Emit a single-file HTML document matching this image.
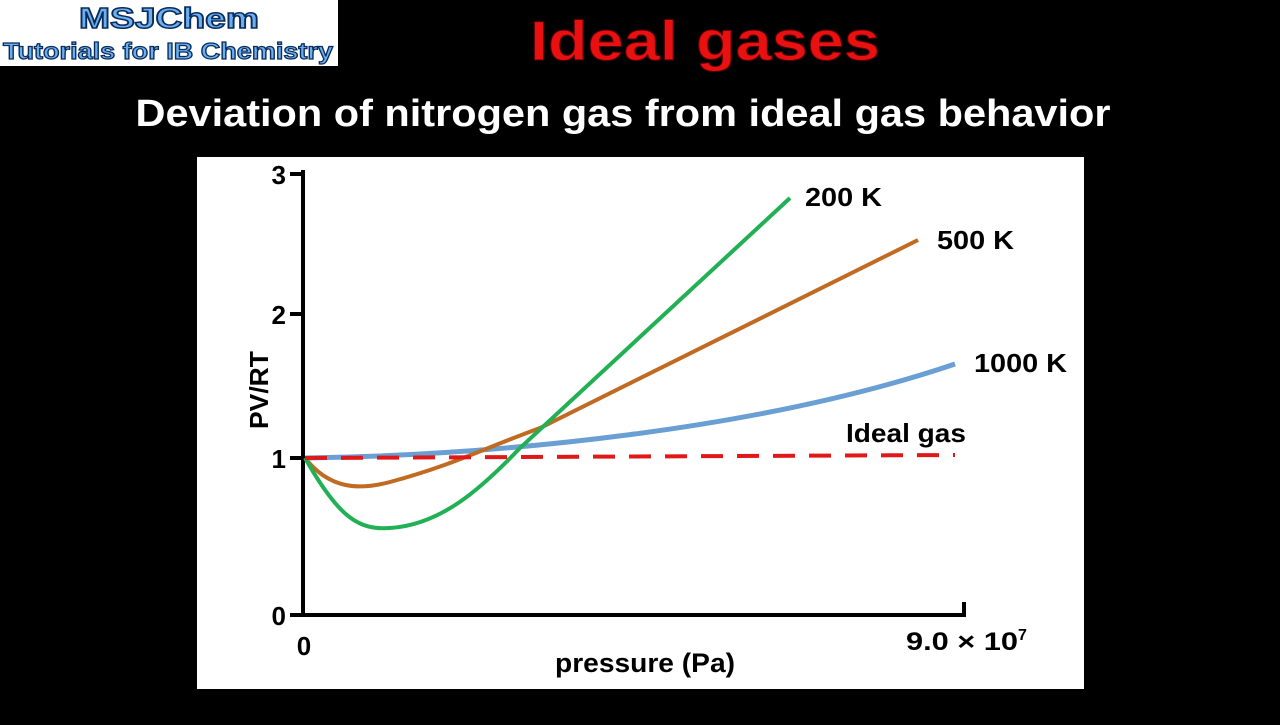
<!DOCTYPE html>
<html><head><style>
body{margin:0;width:1280px;height:720px;background:#000;overflow:hidden;font-family:"Liberation Sans",sans-serif}
</style></head><body>
<svg width="1280" height="720" viewBox="0 0 1280 720">
<rect x="0" y="0" width="338" height="66" fill="#fff"/>
<text x="169" y="28" text-anchor="middle" font-size="29" font-weight="bold" fill="#6aaff0" stroke="#0a2a5a" stroke-width="1.5" textLength="180" lengthAdjust="spacingAndGlyphs">MSJChem</text>
<text x="168" y="59" text-anchor="middle" font-size="23" font-weight="bold" fill="#6aaff0" stroke="#0a2a5a" stroke-width="1.2" textLength="330" lengthAdjust="spacingAndGlyphs">Tutorials for IB Chemistry</text>
<text x="705" y="60" text-anchor="middle" font-size="56" font-weight="bold" fill="#e81010" stroke="#5a0000" stroke-width="1" textLength="350" lengthAdjust="spacingAndGlyphs">Ideal gases</text>
<text x="623" y="126" text-anchor="middle" font-size="38" font-weight="bold" fill="#fff" textLength="975" lengthAdjust="spacingAndGlyphs">Deviation of nitrogen gas from ideal gas behavior</text>
<rect x="197" y="157" width="887" height="532" fill="#fff"/>
<g stroke="#000" stroke-width="4" fill="none">
<line x1="303" y1="170" x2="303" y2="617"/>
<line x1="301" y1="615" x2="966" y2="615"/>
<line x1="290" y1="174" x2="303" y2="174"/>
<line x1="290" y1="314" x2="303" y2="314"/>
<line x1="290" y1="458" x2="303" y2="458"/>
<line x1="290" y1="615" x2="303" y2="615"/>
<line x1="964" y1="615" x2="964" y2="602"/>
</g>
<g font-size="26" font-weight="bold" fill="#000" text-anchor="end">
<text x="286" y="184">3</text><text x="286" y="324">2</text><text x="286" y="468">1</text><text x="286" y="625">0</text>
</g>
<text x="304" y="655" font-size="26" font-weight="bold" text-anchor="middle">0</text>
<text x="906" y="650" font-size="25" font-weight="bold" textLength="112" lengthAdjust="spacingAndGlyphs">9.0 × 10</text><text x="1018" y="640" font-size="16" font-weight="bold">7</text>
<text x="645" y="672" font-size="27" font-weight="bold" text-anchor="middle" textLength="180" lengthAdjust="spacingAndGlyphs">pressure (Pa)</text>
<text transform="translate(268,390) rotate(-90)" font-size="26" font-weight="bold" text-anchor="middle" textLength="78" lengthAdjust="spacingAndGlyphs">PV/RT</text>
<path d="M305,458 C500,455 760,430 955,364" stroke="#6a9fd4" stroke-width="5" fill="none"/>
<path d="M305,458 C330,490 360,490 390,482 C450,466 480,450 540,428 L918,240" stroke="#c06a22" stroke-width="4" fill="none"/>
<path d="M305,458 C340,520 360,530 390,528 C440,525 480,490 520,448 L790,198" stroke="#22b055" stroke-width="4" fill="none"/>
<line x1="305" y1="458" x2="955" y2="455" stroke="#e01818" stroke-width="4" stroke-dasharray="22,14"/>
<g font-size="26" font-weight="bold">
<text x="805" y="206" textLength="77" lengthAdjust="spacingAndGlyphs">200 K</text>
<text x="937" y="249" textLength="77" lengthAdjust="spacingAndGlyphs">500 K</text>
<text x="974" y="372" textLength="93" lengthAdjust="spacingAndGlyphs">1000 K</text>
<text x="846" y="442" textLength="120" lengthAdjust="spacingAndGlyphs">Ideal gas</text>
</g>
</svg>
</body></html>
